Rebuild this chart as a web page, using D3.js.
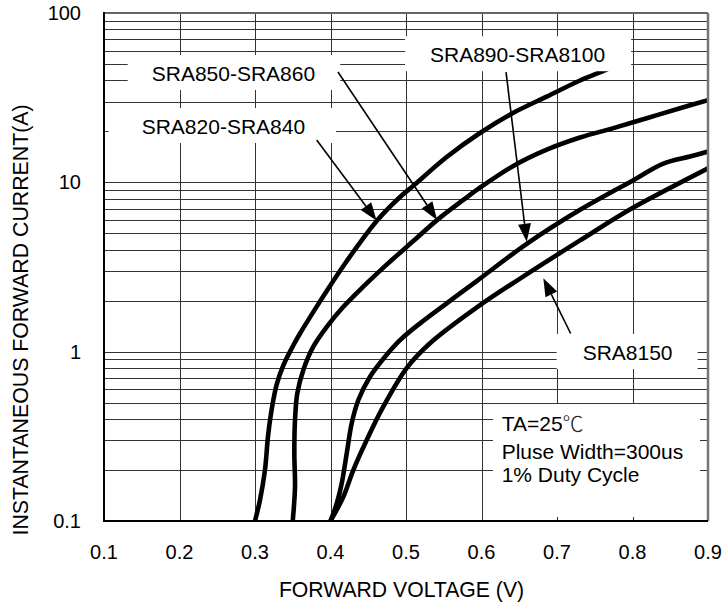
<!DOCTYPE html>
<html><head><meta charset="utf-8">
<script src="https://cdn.jsdelivr.net/npm/d3@7/dist/d3.min.js"></script>
<style>body{margin:0;background:#fff}svg{display:block}text{font-family:Arial,"Liberation Sans",sans-serif;fill:#000}</style>
</head><body>
<script>
// ---- data ----
const xTickValues = [0.1,0.2,0.3,0.4,0.5,0.6,0.7,0.8,0.9];
const yTickValues = [0.1,1,10,100];
const yTickLabels = ["0.1","1","10","100"];
const xTitle = "FORWARD VOLTAGE (V)";
const yTitle = "INSTANTANEOUS FORWARD CURRENT(A)";

// curve: SRA820-SRA840
const v820 = [0.300,0.3066,0.3132,0.3172,0.3219,0.3285,0.3377,0.3510,0.3596,0.3817,0.3993,0.4170,0.4391,0.4612,0.4921,0.5093,0.5539,0.5980,0.6417,0.6863,0.7305,0.7592,0.7848];
const i820 = [0.10,0.133,0.20,0.315,0.45,0.635,0.834,1.095,1.28,1.845,2.443,3.206,4.407,5.92,8.19,9.51,14.11,19.56,25.68,32.05,39.94,45.0,50.7];
// curve: SRA850-SRA860
const v850 = [0.350,0.3530,0.3521,0.3530,0.3560,0.3640,0.3772,0.3950,0.4170,0.4434,0.4722,0.5097,0.5415,0.5759,0.5980,0.6421,0.6864,0.7305,0.7746,0.8188,0.8629,0.900];
const i850 = [0.10,0.16,0.25,0.395,0.567,0.78,1.07,1.40,1.84,2.42,3.2,4.5,6.0,7.87,9.3,12.5,15.6,18.4,20.9,23.9,27.4,30.6];
// curve: SRA890-SRA8100
const v890 = [0.400,0.4083,0.4149,0.4215,0.4281,0.4369,0.4523,0.4722,0.4921,0.5186,0.5539,0.5936,0.6599,0.7305,0.8011,0.8408,0.8760,0.900];
const i890 = [0.10,0.127,0.167,0.251,0.378,0.518,0.711,0.934,1.17,1.47,1.93,2.61,4.33,6.88,10.3,12.9,14.2,15.2];
// curve: SRA8150
const v8150 = [0.400,0.4170,0.4302,0.4480,0.4699,0.5009,0.5318,0.5980,0.6510,0.7305,0.8011,0.900];
const i8150 = [0.10,0.139,0.20,0.301,0.473,0.80,1.12,1.88,2.70,4.54,7.1,12.1];

const seriesNames = ["SRA820-SRA840","SRA850-SRA860","SRA890-SRA8100","SRA8150"];
const seriesV = [v820, v850, v890, v8150];
const seriesI = [i820, i850, i890, i8150];

// annotation labels (text start / baseline in data units) and arrows (from -> to, data units)
const labelText = ["SRA850-SRA860","SRA820-SRA840","SRA890-SRA8100","SRA8150"];
const labelV = [0.1632,0.1499,0.5318,0.7340];
const labelI = [39.7,19.3,51.2,0.893];
const labelPadL = [24,33,25,26];
const labelPadR = [25,31,26,25];
const arrowFrom = [[0.4099,44.8],[0.3817,17.8],[0.6325,44.8],[0.7181,1.28]];
const arrowTo = [[0.5411,6.0],[0.4612,5.94],[0.6599,4.46],[0.6819,2.71]];

const noteLines = ["TA=25","Pluse Width=300us","1% Duty Cycle"];
const degSymbol = "\u2103";

// ---- layout ----
const W = 726, H = 606;
const m = {left:104, top:13, right:708, bottom:521};
const x = d3.scaleLinear().domain([0.1,0.9]).range([m.left, m.right]);
const y = d3.scaleLog().domain([0.1,100]).range([m.bottom, m.top]);

const svg = d3.select("body").append("svg").attr("width",W).attr("height",H);

// grid
const grid = svg.append("g").attr("stroke","#333").attr("stroke-width",1).attr("shape-rendering","crispEdges");
const hLines = [];
for (let e=-1;e<2;e++) for (let k=1;k<=9;k++){ const v=k*Math.pow(10,e); if (v>0.1) hLines.push(v); }
grid.selectAll("line.h").data(hLines).join("line").attr("class","h")
  .attr("x1",m.left).attr("x2",m.right).attr("y1",d=>Math.round(y(d))+0.5).attr("y2",d=>Math.round(y(d))+0.5);
grid.selectAll("line.v").data(xTickValues.slice(1,-1)).join("line").attr("class","v")
  .attr("y1",m.top).attr("y2",m.bottom).attr("x1",d=>Math.round(x(d))+0.5).attr("x2",d=>Math.round(x(d))+0.5);

// curves
const line = d3.line().x(d=>x(d[0])).y(d=>y(d[1])).curve(d3.curveCatmullRom.alpha(0.5));
svg.append("clipPath").attr("id","clip").append("rect")
  .attr("x",m.left).attr("y",m.top).attr("width",m.right-m.left).attr("height",m.bottom-m.top);
svg.append("g").attr("clip-path","url(#clip)").selectAll("path").data(seriesNames).join("path")
  .attr("d",(n,i)=>line(seriesV[i].map((v,j)=>[v,seriesI[i][j]])))
  .attr("fill","none").attr("stroke","#000").attr("stroke-width",4.6).attr("stroke-linecap","round").attr("stroke-linejoin","round");

// labels with white boxes
const lab = svg.append("g");
labelText.forEach((t,i)=>{
  const g = lab.append("g");
  const r = g.append("rect").attr("fill","#fff");
  const tx = g.append("text").attr("x",x(labelV[i])).attr("y",y(labelI[i])).attr("font-size",21).text(t);
  const b = tx.node().getBBox();
  r.attr("x",b.x-labelPadL[i]).attr("y",b.y-7).attr("width",b.width+labelPadL[i]+labelPadR[i]).attr("height",b.height+12);
});

// note box
const nb = svg.append("g");
nb.append("rect").attr("x",493).attr("y",404).attr("width",207).attr("height",113).attr("fill","#fff");
const noteBase = [431,458.7,482.3];
noteLines.forEach((t,i)=>{
  const tt = nb.append("text").attr("x",501.7).attr("y",noteBase[i]).attr("font-size",21).text(t);
  if (i===0) tt.append("tspan").attr("font-family","'Noto Sans CJK SC'").attr("font-weight",300).attr("fill","#222").text(degSymbol);
});

// arrows
const arr = svg.append("g");
arrowFrom.forEach((f,i)=>{
  const x1=x(f[0]), y1=y(f[1]), x2=x(arrowTo[i][0]), y2=y(arrowTo[i][1]);
  const ang = Math.atan2(y2-y1,x2-x1), L=18, Hw=6.5;
  const bx = x2-L*Math.cos(ang), by=y2-L*Math.sin(ang);
  arr.append("line").attr("x1",x1).attr("y1",y1).attr("x2",bx).attr("y2",by).attr("stroke","#000").attr("stroke-width",1.6);
  arr.append("path").attr("d",`M${x2},${y2}L${bx+Hw*Math.sin(ang)},${by-Hw*Math.cos(ang)}L${bx-Hw*Math.sin(ang)},${by+Hw*Math.cos(ang)}Z`).attr("fill","#000");
});

// frame
svg.append("line").attr("x1",m.left).attr("x2",m.right).attr("y1",m.top).attr("y2",m.top).attr("stroke","#666").attr("stroke-width",2);
svg.append("line").attr("x1",m.right).attr("x2",m.right).attr("y1",m.top).attr("y2",m.bottom).attr("stroke","#777").attr("stroke-width",2.5);
svg.append("line").attr("x1",m.left).attr("x2",m.left).attr("y1",m.top-1).attr("y2",m.bottom+1).attr("stroke","#000").attr("stroke-width",2);
svg.append("line").attr("x1",m.left-1).attr("x2",m.right).attr("y1",m.bottom).attr("y2",m.bottom).attr("stroke","#000").attr("stroke-width",2);

// axes labels
svg.append("g").selectAll("text").data(xTickValues).join("text")
  .attr("x",d=>x(d)).attr("y",559).attr("text-anchor","middle").attr("font-size",20).text(d=>d3.format(".1f")(d));
svg.append("g").selectAll("text").data(yTickValues).join("text")
  .attr("x",81).attr("y",d=>y(d)+7).attr("text-anchor","end").attr("font-size",20).text((d,i)=>yTickLabels[i]);
svg.append("text").attr("x",401.5).attr("y",597).attr("text-anchor","middle").attr("font-size",21.2).text(xTitle);
svg.append("text").attr("transform","translate(28,320) rotate(-90)").attr("text-anchor","middle").attr("font-size",21.3).text(yTitle);
</script>
</body></html>
